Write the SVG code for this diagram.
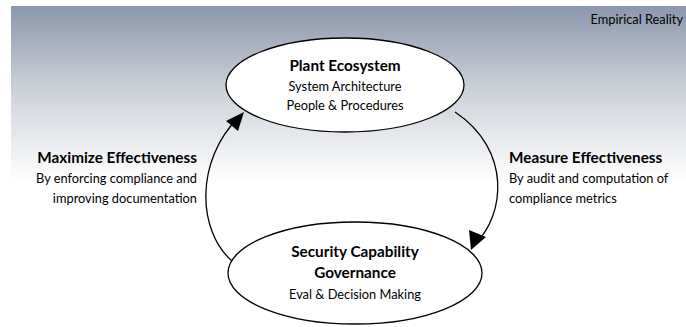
<svg xmlns="http://www.w3.org/2000/svg" width="686" height="327" viewBox="0 0 686 327">
  <defs>
    <linearGradient id="sky" x1="0" y1="0" x2="0" y2="1">
      <stop offset="0" stop-color="#8a97ab"/>
      <stop offset="0.45" stop-color="#c9ced6"/>
      <stop offset="1" stop-color="#ffffff"/>
    </linearGradient>
    <style>
      text { font-family: Lato, "Open Sans", "Liberation Sans", sans-serif; fill: #000; }
      .title { font-size: 15.3px; font-weight: bold; }
      .sub { font-size: 12.8px; }
      .node { fill: #fff; stroke: #000; stroke-width: 1.3; }
      .link { fill: none; stroke: #000; stroke-width: 1.3; }
      .head { fill: #000; }
    </style>
  </defs>

  <rect x="0" y="0" width="686" height="327" fill="#fff"/>
  <!-- shaded backdrop fading to white -->
  <rect x="11" y="6" width="675" height="175" fill="url(#sky)"/>
  <text x="683" y="24" class="sub" text-anchor="end">Empirical Reality</text>

  <g id="connectors">
    <path class="link" d="M233,262 C196,230 196,160 238,118"/>
    <path class="head" d="M244,112 L226,121 L238,131 z"/>
    <path class="link" d="M455,112 C512,150 505,215 475,244"/>
    <path class="head" d="M471,250 L469,230 L486,237 z"/>
  </g>

  <g id="plant-ecosystem">
    <ellipse class="node" cx="345" cy="85" rx="119" ry="47"/>
    <text x="345" y="71" class="title" text-anchor="middle">Plant Ecosystem</text>
    <text x="345" y="91" class="sub" text-anchor="middle">System Architecture</text>
    <text x="345" y="110" class="sub" text-anchor="middle">People &amp; Procedures</text>
  </g>

  <g id="security-governance">
    <ellipse class="node" cx="355" cy="273" rx="127" ry="51"/>
    <text x="355" y="257" class="title" text-anchor="middle">Security Capability</text>
    <text x="355" y="278" class="title" text-anchor="middle">Governance</text>
    <text x="355" y="299" class="sub" text-anchor="middle">Eval &amp; Decision Making</text>
  </g>

  <g id="maximize-label">
    <text x="197" y="163" class="title" text-anchor="end">Maximize Effectiveness</text>
    <text x="197" y="183" class="sub" text-anchor="end">By enforcing compliance and</text>
    <text x="197" y="203" class="sub" text-anchor="end">improving documentation</text>
  </g>

  <g id="measure-label">
    <text x="509" y="163" class="title">Measure Effectiveness</text>
    <text x="509" y="183" class="sub">By audit and computation of</text>
    <text x="509" y="203" class="sub">compliance metrics</text>
  </g>
</svg>
